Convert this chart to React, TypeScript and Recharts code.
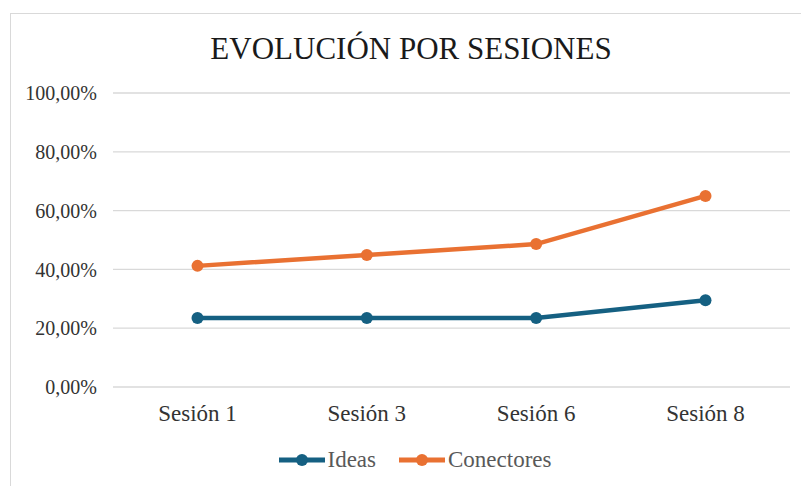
import React from "react";
import { LineChart, Line, XAxis, YAxis, CartesianGrid } from "recharts";

const categories = ["Sesión 1", "Sesión 3", "Sesión 6", "Sesión 8"];
const ideas = [0.235, 0.235, 0.235, 0.295];
const conectores = [0.412, 0.449, 0.486, 0.65];
const yTicks = [0, 0.2, 0.4, 0.6, 0.8, 1];
const title = "EVOLUCIÓN POR SESIONES";
const seriesNames = ["Ideas", "Conectores"];

const data = categories.map((c, i) => ({ name: c, Ideas: ideas[i], Conectores: conectores[i] }));

const FONT = '"Liberation Serif", serif';
const BLUE = "#156082";
const ORANGE = "#E97132";
const colors = [BLUE, ORANGE];

const fmt = (v: number) => (v * 100).toFixed(2).replace(".", ",") + "%";

export default function App() {
  return (
    <div style={{ position: "fixed", left: 0, top: 0, width: 801, height: 486, overflow: "hidden", background: "#fff", fontFamily: FONT }}>
      <div style={{ position: "absolute", left: 10, top: 13, width: 820, height: 500, border: "1px solid #d9d9d9", boxSizing: "border-box" }} />
      <div style={{ position: "absolute", left: 0, top: 33, width: 822, textAlign: "center", fontFamily: FONT, fontSize: 31, lineHeight: "31px", color: "#1a1a1a" }}>
        {title}
      </div>
      <div style={{ position: "absolute", left: 0, top: 0 }}>
        <LineChart width={801} height={486} data={data} margin={{ top: 93, right: 11, bottom: 59, left: 0 }} style={{ fontFamily: FONT }}>
          <CartesianGrid vertical={false} stroke="#d9d9d9" strokeWidth={1.3} />
          <XAxis
            dataKey="name"
            axisLine={false}
            tickLine={false}
            tickSize={0}
            tickMargin={18}
            padding={{ left: 84.5, right: 84.5 }}
            tick={{ fill: "#333", fontSize: 23, fontFamily: FONT }}
            height={40}
          />
          <YAxis
            domain={[0, 1]}
            ticks={yTicks}
            tickFormatter={fmt}
            axisLine={false}
            tickLine={false}
            tickSize={0}
            tickMargin={16}
            width={113}
            tick={{ fill: "#333", fontSize: 20, fontFamily: FONT }}
          />
          <Line dataKey="Ideas" stroke={BLUE} strokeWidth={4.5} dot={{ r: 6, fill: BLUE, stroke: BLUE, strokeWidth: 0 }} isAnimationActive={false} />
          <Line dataKey="Conectores" stroke={ORANGE} strokeWidth={4.5} dot={{ r: 6, fill: ORANGE, stroke: ORANGE, strokeWidth: 0 }} isAnimationActive={false} />
        </LineChart>
      </div>
      <div style={{ position: "absolute", left: 0, top: 448, width: 830, display: "flex", justifyContent: "center", fontFamily: FONT, fontSize: 23, lineHeight: "23px", color: "#595959" }}>
        {seriesNames.map((n, i) => (
          <div key={n} style={{ display: "flex", alignItems: "center", marginRight: i < seriesNames.length - 1 ? 23 : 0 }}>
            <svg width={46} height={14} style={{ marginRight: 3 }}>
              <line x1={0} y1={7} x2={46} y2={7} stroke={colors[i]} strokeWidth={5} />
              <circle cx={23} cy={7} r={6} fill={colors[i]} />
            </svg>
            <span>{n}</span>
          </div>
        ))}
      </div>
    </div>
  );
}
